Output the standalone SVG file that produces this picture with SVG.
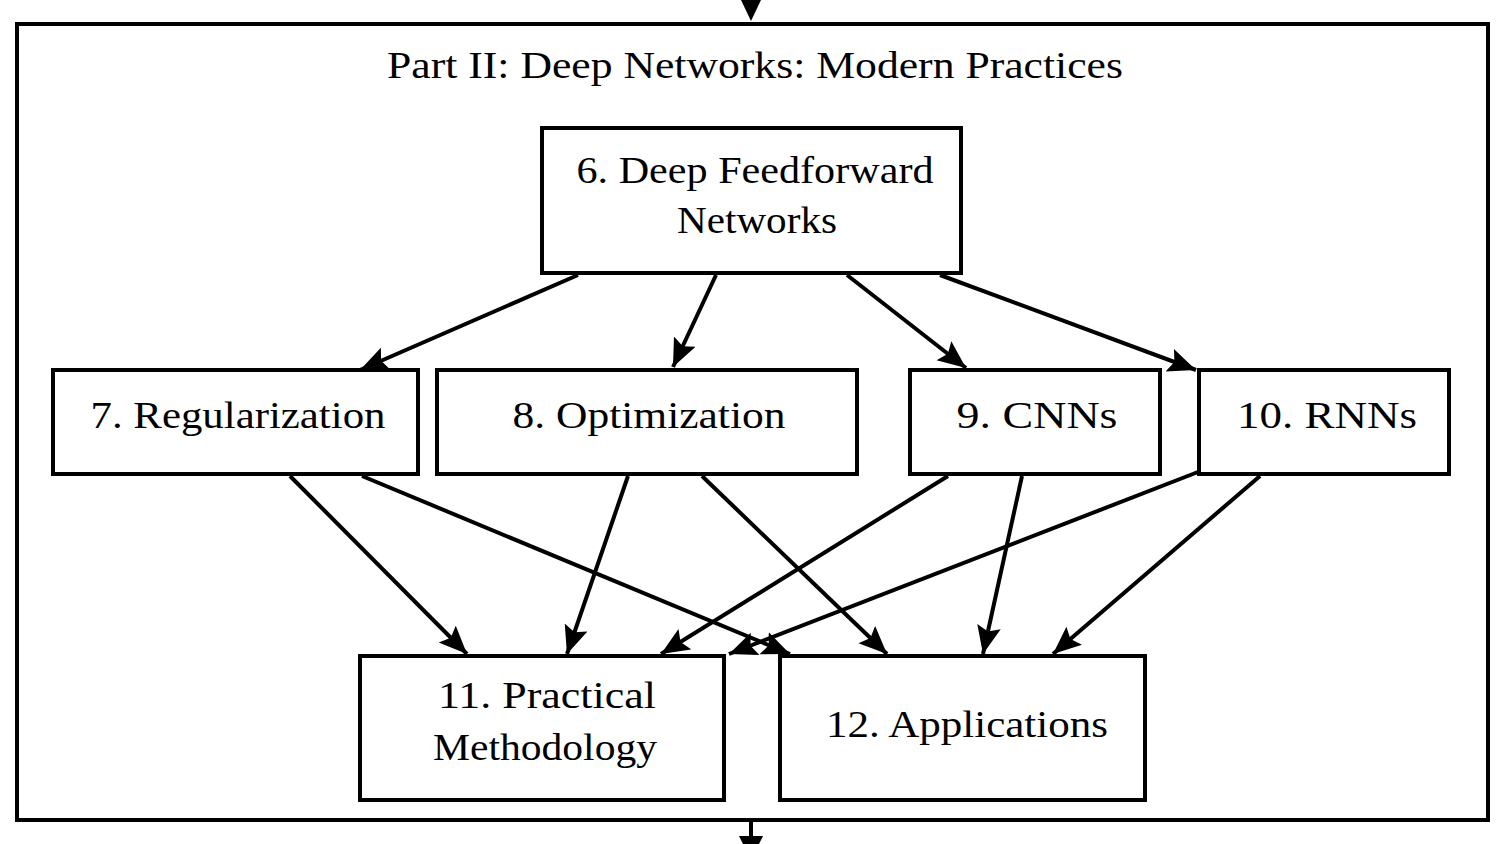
<svg xmlns="http://www.w3.org/2000/svg" width="1502" height="844" viewBox="0 0 1502 844">
  <style>
    .box { fill: #fff; stroke: #000; stroke-width: 4; }
    .frame { fill: none; stroke: #000; stroke-width: 4; }
    .lbl { font-family: "Liberation Serif", "DejaVu Serif", serif; font-size: 38px; fill: #000; text-anchor: middle; }
    .edge { stroke: #000; stroke-width: 4; fill: none; marker-end: url(#head); }
  </style>
  <defs>
    <marker id="head" markerUnits="userSpaceOnUse" markerWidth="30" markerHeight="26" refX="28" refY="12" orient="auto">
      <path d="M0,0 L28,12 L0,24 L5,12 z" fill="#000"/>
    </marker>
  </defs>
  <rect width="1502" height="844" fill="#fff"/>

  <!-- part frame -->
  <g id="part2">
    <rect class="frame" x="17" y="24" width="1471" height="796"/>
    <text class="lbl" x="755" y="78" textLength="736" lengthAdjust="spacingAndGlyphs">Part II: Deep Networks: Modern Practices</text>
  </g>

  <!-- entry / exit arrows through the frame -->
  <g id="flow">
    <line x1="751" y1="0" x2="751" y2="6" stroke="#000" stroke-width="4"/>
    <path d="M741,0 L761,0 L751,21 z" fill="#000"/>
    <line x1="751" y1="822" x2="751" y2="840" stroke="#000" stroke-width="4"/>
    <path d="M739,836 L763,836 L751,860 z" fill="#000"/>
  </g>

  <g id="n6">
    <rect class="box" x="542" y="128" width="419" height="145"/>
    <text class="lbl" x="755" y="183" textLength="357" lengthAdjust="spacingAndGlyphs">6. Deep Feedforward</text>
    <text class="lbl" x="757" y="233" textLength="160" lengthAdjust="spacingAndGlyphs">Networks</text>
  </g>
  <g id="n7">
    <rect class="box" x="53" y="370" width="365" height="104"/>
    <text class="lbl" x="238" y="428" textLength="295" lengthAdjust="spacingAndGlyphs">7. Regularization</text>
  </g>
  <g id="n8">
    <rect class="box" x="437" y="370" width="420" height="104"/>
    <text class="lbl" x="649" y="428" textLength="273" lengthAdjust="spacingAndGlyphs">8. Optimization</text>
  </g>
  <g id="n9">
    <rect class="box" x="910" y="370" width="250" height="104"/>
    <text class="lbl" x="1037" y="428" textLength="161" lengthAdjust="spacingAndGlyphs">9.  CNNs</text>
  </g>
  <g id="n10">
    <rect class="box" x="1199" y="370" width="250" height="104"/>
    <text class="lbl" x="1327" y="428" textLength="180" lengthAdjust="spacingAndGlyphs">10.  RNNs</text>
  </g>
  <g id="n11">
    <rect class="box" x="360" y="656" width="364" height="144"/>
    <text class="lbl" x="547" y="708" textLength="218" lengthAdjust="spacingAndGlyphs">11. Practical</text>
    <text class="lbl" x="545" y="760" textLength="224" lengthAdjust="spacingAndGlyphs">Methodology</text>
  </g>
  <g id="n12">
    <rect class="box" x="780" y="656" width="365" height="144"/>
    <text class="lbl" x="967" y="737" textLength="282" lengthAdjust="spacingAndGlyphs">12. Applications</text>
  </g>

  <g id="edges">
    <line class="edge" x1="578" y1="275" x2="360" y2="370"/>
    <line class="edge" x1="716" y1="275" x2="673" y2="367"/>
    <line class="edge" x1="847" y1="275" x2="966" y2="368"/>
    <line class="edge" x1="940" y1="275" x2="1196" y2="370"/>
    <line class="edge" x1="290" y1="476" x2="467" y2="654"/>
    <line class="edge" x1="362" y1="476" x2="790" y2="654"/>
    <line class="edge" x1="628" y1="476" x2="567" y2="654"/>
    <line class="edge" x1="702" y1="476" x2="887" y2="654"/>
    <line class="edge" x1="948" y1="476" x2="661" y2="654"/>
    <line class="edge" x1="1022" y1="476" x2="983" y2="654"/>
    <line class="edge" x1="1198" y1="472" x2="729" y2="654"/>
    <line class="edge" x1="1260" y1="476" x2="1053" y2="654"/>
  </g>
</svg>
